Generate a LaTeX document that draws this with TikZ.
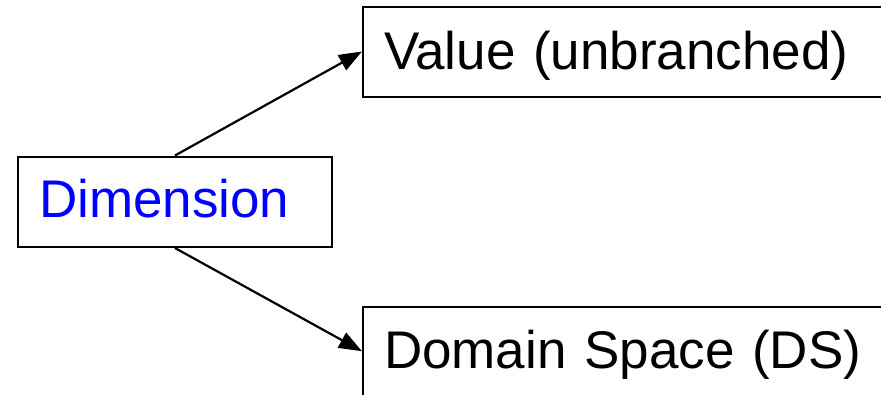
\documentclass[tikz,border=0pt]{standalone}
\usepackage{fontspec}
\setmainfont{Liberation Sans}
\usetikzlibrary{arrows.meta}
\definecolor{dimblue}{RGB}{0,0,255}
\tikzset{
  boxnode/.style={draw=black, line width=2pt, inner xsep=21pt, inner ysep=0pt,
    align=left, font=\fontsize{53}{60}\selectfont, anchor=north west},
  conn/.style={line width=2.2pt, -{Triangle[length=23pt,width=17pt]}}
}
\begin{document}
\begin{tikzpicture}[x=1pt,y=-1pt]
\useasboundingbox (0,0) rectangle (881,394);
\clip (0,0) rectangle (881,394);
\node[boxnode, text width=272pt, text height=60.5pt, text depth=30pt, text=dimblue] (dim) at (17,155.5) {Dimension};
\node[boxnode, text width=520pt, text height=62.5pt, text depth=27.5pt] (val) at (362,5.5) {Value (unbranched)};
\node[boxnode, text width=520pt, text height=61.5pt, text depth=28pt] (dom) at (362,305.5) {Domain Space (DS)};
\draw[conn] (dim.north) -- (val.west);
\draw[conn] (dim.south) -- (dom.west);
\end{tikzpicture}
\end{document}
